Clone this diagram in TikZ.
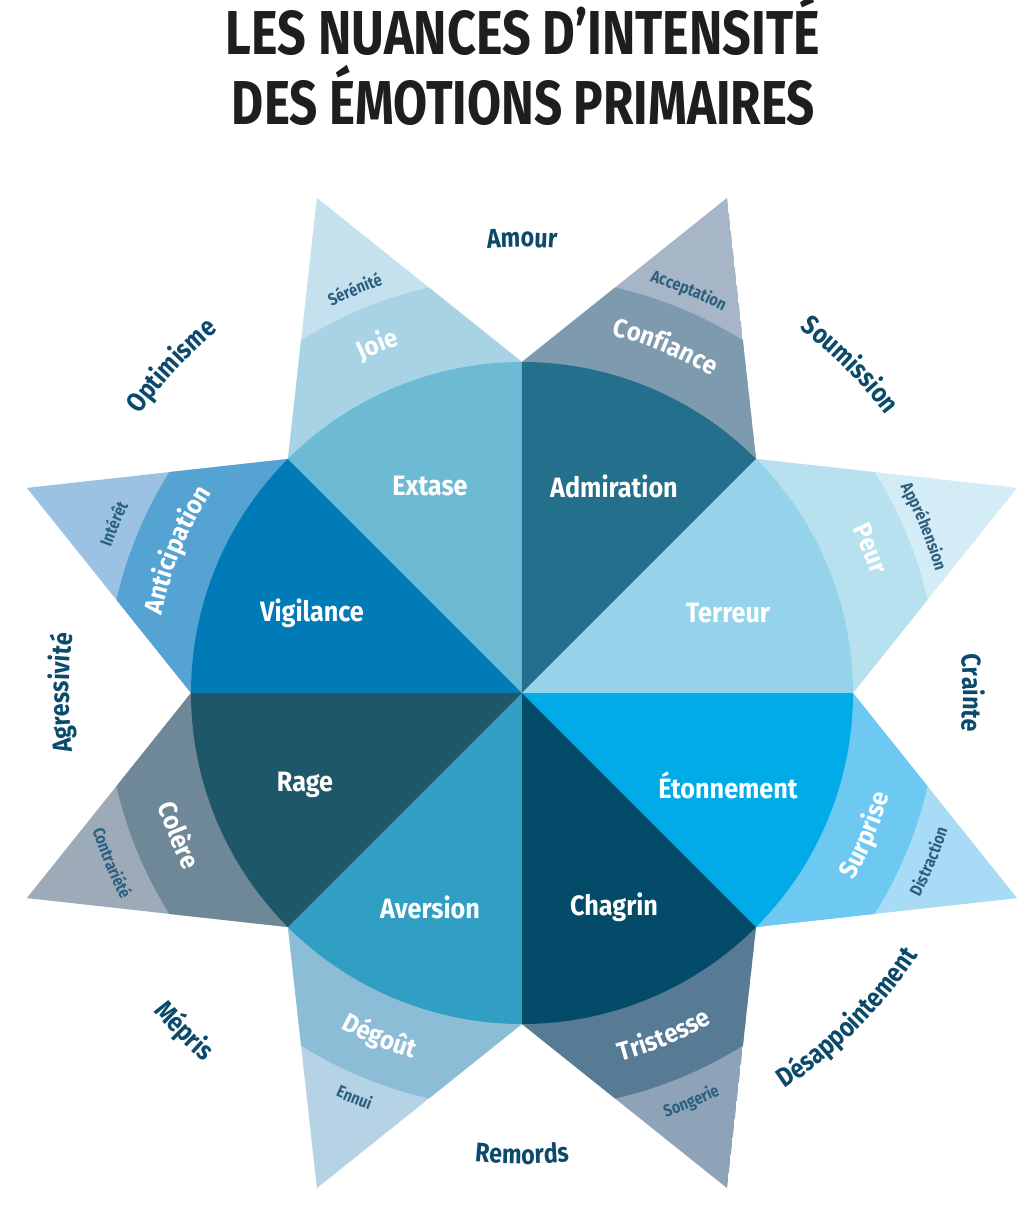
\documentclass[tikz,border=0pt]{standalone}
\usepackage{fontspec}
\usepackage{graphicx}
\setmainfont{Fira Sans}
\newfontfamily\fcond[FakeStretch=0.80]{Fira Sans}
\newfontfamily\finner[FakeStretch=0.90]{Fira Sans}
\newfontfamily\fsmall[FakeStretch=0.85]{Fira Sans}
\newfontfamily\fband[FakeStretch=0.92]{Fira Sans}
\newfontfamily\fdyad[FakeStretch=0.86]{Fira Sans}
\usetikzlibrary{decorations.text}
% sector colours: inner / band / outer
\definecolor{exA}{HTML}{6DBAD5}\definecolor{exB}{HTML}{A7D3E4}\definecolor{exC}{HTML}{C4E1ED}
\definecolor{adA}{HTML}{236F8C}\definecolor{adB}{HTML}{7E9AAF}\definecolor{adC}{HTML}{A6B6C6}
\definecolor{teA}{HTML}{94D3EA}\definecolor{teB}{HTML}{B8E1EF}\definecolor{teC}{HTML}{D4ECF5}
\definecolor{etA}{HTML}{00ABE7}\definecolor{etB}{HTML}{6DC9F1}\definecolor{etC}{HTML}{A8DBF6}
\definecolor{chA}{HTML}{034B69}\definecolor{chB}{HTML}{587B95}\definecolor{chC}{HTML}{8EA3B8}
\definecolor{avA}{HTML}{319EC3}\definecolor{avB}{HTML}{8CBDD6}\definecolor{avC}{HTML}{B6D3E5}
\definecolor{raA}{HTML}{1D5768}\definecolor{raB}{HTML}{6E8897}\definecolor{raC}{HTML}{9CABB7}
\definecolor{viA}{HTML}{007BB7}\definecolor{viB}{HTML}{55A3D3}\definecolor{viC}{HTML}{9BC2E2}
\definecolor{smalltxt}{HTML}{2C5F80}
\definecolor{dyadtxt}{HTML}{0B4A6B}
\definecolor{titletxt}{HTML}{1E1E1E}

\newcommand\petal[4]{%
  \begin{scope}
    \clip (#1-22.5:331pt) -- (#1:536pt) -- (#1+22.5:331pt) -- cycle;
    \fill[#4] (#1-22.5:331pt) -- (#1:536pt) -- (#1+22.5:331pt) -- cycle;
    \fill[#3] (0,0) circle (416pt);
  \end{scope}
  \fill[#2] (0,0) -- (#1-22.5:331pt) arc[start angle=#1-22.5, end angle=#1+22.5, radius=331pt] -- cycle;
}
% curved text, tops pointing away from centre (clockwise path)
\newcommand\cwtext[5]{%
  \path[decorate,decoration={text along path,text align=center,text color=#3,text={|#4|#5}}]
    (#1+60:#2) arc[start angle=#1+60, end angle=#1-60, radius=#2];
}
% curved text, tops pointing to the centre (counter-clockwise path)
\newcommand\ccwtext[5]{%
  \path[decorate,decoration={text along path,text align=center,text color=#3,text={|#4|#5}}]
    (#1-60:#2) arc[start angle=#1-60, end angle=#1+60, radius=#2];
}
\newcommand\bandfont{\fband\bfseries\fontsize{26}{26}\selectfont}
\newcommand\smallfont{\fsmall\bfseries\fontsize{17}{17}\selectfont}
\newcommand\dyadfont{\fdyad\bfseries\fontsize{27}{27}\selectfont}

\tikzset{
  inner label/.style={text=white, font=\finner\bfseries\fontsize{28}{28}\selectfont, inner sep=0pt},
  title label/.style={text=titletxt, font=\fcond\bfseries\fontsize{62}{62}\selectfont, inner sep=0pt, anchor=base}
}

\begin{document}
\begin{tikzpicture}[x=1pt,y=1pt]
\useasboundingbox (-522,-512) rectangle (496,693);
\fill[white] (-522,-512) rectangle (496,693);

% title
\node[title label] (t1) at (1,638) {\resizebox{594pt}{\height}{LES NUANCES D’INTENSITÉ}};
\node[title label] (t2) at (1.5,568) {\resizebox{583pt}{\height}{DES ÉMOTIONS PRIMAIRES}};

% wheel
\petal{112.5}{exA}{exB}{exC}
\petal{67.5}{adA}{adB}{adC}
\petal{22.5}{teA}{teB}{teC}
\petal{-22.5}{etA}{etB}{etC}
\petal{-67.5}{chA}{chB}{chC}
\petal{-112.5}{avA}{avB}{avC}
\petal{-157.5}{raA}{raB}{raC}
\petal{157.5}{viA}{viB}{viC}

% inner labels
\node[inner label] (extase) at (-92,207) {Extase};
\node[inner label] (admiration) at (92,207) {Admiration};
\node[inner label] (terreur) at (206,80) {Terreur};
\node[inner label] (etonnement) at (206,-92) {Étonnement};
\node[inner label] (chagrin) at (92,-214) {Chagrin};
\node[inner label] (aversion) at (-92,-214) {Aversion};
\node[inner label] (rage) at (-217,-92) {Rage};
\node[inner label] (vigilance) at (-210,80) {Vigilance};

% band labels
\cwtext{112.5}{369pt}{white}{\bandfont}{Joie}
\cwtext{67.5}{369pt}{white}{\bandfont}{Confiance}
\cwtext{22.5}{369pt}{white}{\bandfont}{Peur}
\cwtext{157.5}{369pt}{white}{\bandfont}{Anticipation}
\ccwtext{-22.5}{381pt}{white}{\bandfont}{Surprise}
\ccwtext{-67.5}{381pt}{white}{\bandfont}{Tristesse}
\ccwtext{-112.5}{381pt}{white}{\bandfont}{Dégoût}
\ccwtext{-157.5}{381pt}{white}{\bandfont}{Colère}

% outer small labels
\cwtext{112.5}{431pt}{smalltxt}{\smallfont}{Sérénité}
\cwtext{67.5}{431pt}{smalltxt}{\smallfont}{Acceptation}
\cwtext{22.5}{431pt}{smalltxt}{\smallfont}{Appréhension}
\cwtext{157.5}{436pt}{smalltxt}{\smallfont}{Intérêt}
\ccwtext{-22.5}{447pt}{smalltxt}{\smallfont}{Distraction}
\ccwtext{-67.5}{448pt}{smalltxt}{\smallfont}{Songerie}
\ccwtext{-112.5}{444pt}{smalltxt}{\smallfont}{Ennui}
\ccwtext{-157.5}{451pt}{smalltxt}{\smallfont}{Contrariété}

% dyad labels
\cwtext{90}{446pt}{dyadtxt}{\dyadfont}{Amour}
\cwtext{45}{458pt}{dyadtxt}{\dyadfont}{Soumission}
\cwtext{0}{441pt}{dyadtxt}{\dyadfont}{Crainte}
\cwtext{180}{453pt}{dyadtxt}{\dyadfont}{Agressivité}
\cwtext{137}{473pt}{dyadtxt}{\dyadfont}{Optimisme}
\ccwtext{-45}{475pt}{dyadtxt}{\dyadfont}{Désappointement}
\ccwtext{-90}{471pt}{dyadtxt}{\dyadfont}{Remords}
\ccwtext{-135}{487pt}{dyadtxt}{\dyadfont}{Mépris}
\end{tikzpicture}
\end{document}
